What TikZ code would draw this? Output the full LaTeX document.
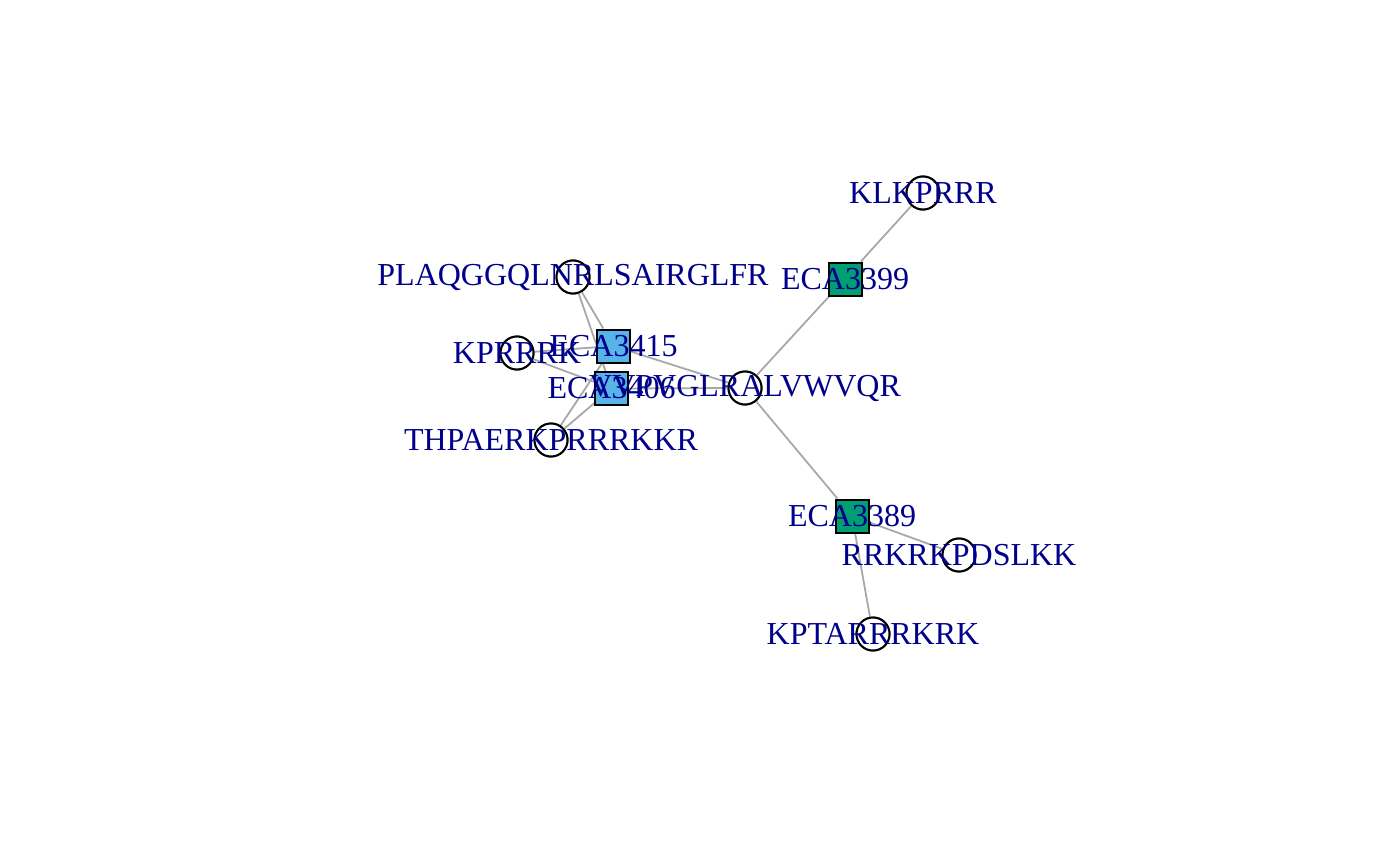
\documentclass[tikz,border=0pt]{standalone}
\usepackage{fontspec}
\setmainfont{Liberation Serif}
\usepackage{tikz}
\definecolor{edgegray}{RGB}{168,168,168}
\definecolor{protblue}{RGB}{86,180,233}
\definecolor{protgreen}{RGB}{0,158,115}
\definecolor{labelblue}{RGB}{0,0,139}
\tikzset{>=latex}
\tikzset{
pep/.style={circle, draw=black, line width=1pt, fill=white, minimum size=16.5pt, inner sep=0pt},
prot/.style={rectangle, draw=black, line width=1pt, minimum size=16.5pt, inner sep=0pt},
lbl/.style={text=labelblue, font=\fontsize{16pt}{18pt}\selectfont, inner sep=0pt},
link/.style={draw=edgegray, line width=0.9pt}
}
\begin{document}
\begin{tikzpicture}[x=0.5pt, y=-0.5pt]
\useasboundingbox (0,0) rectangle (1400,866);
% vertices
\node[pep] (klk) at (923,193) {};
\node[prot, fill=protgreen] (e3399) at (845,279) {};
\node[pep] (plaq) at (573,277) {};
\node[prot, fill=protblue] (e3415) at (613.5,346) {};
\node[pep] (kpr) at (517,353) {};
\node[prot, fill=protblue] (e3406) at (611.5,388.5) {};
\node[pep] (vvp) at (745,388) {};
\node[pep] (thp) at (551,440) {};
\node[prot, fill=protgreen] (e3389) at (852,516) {};
\node[pep] (rrk) at (959,555) {};
\node[pep] (kpt) at (873,634) {};
% edges
\path[link]
(klk) edge (e3399)
(e3399) edge (vvp)
(vvp) edge (e3389)
(e3389) edge (rrk)
(e3389) edge (kpt)
(plaq) edge (e3415)
(plaq) edge (e3406)
(kpr) edge (e3415)
(kpr) edge (e3406)
(thp) edge (e3415)
(thp) edge (e3406)
(e3415) edge (vvp)
(e3406) edge (vvp)
;
% redraw vertices on top of edges
\foreach \v/\c in {e3399/protgreen, e3415/protblue, e3406/protblue, e3389/protgreen}
  \node[prot, fill=\c] at (\v) {};
\foreach \v in {klk, plaq, kpr, vvp, thp, rrk, kpt}
  \node[pep] at (\v) {};
% labels
\node[lbl] (lklk) at (klk) {KLKPRRR};
\node[lbl] (le3399) at (e3399) {ECA3399};
\node[lbl] (lplaq) at (plaq) {PLAQGGQLNRLSAIRGLFR};
\node[lbl] (le3415) at (e3415) {ECA3415};
\node[lbl] (lkpr) at (kpr) {KPRRRK};
\node[lbl] (le3406) at (e3406) {ECA3406};
\node[lbl] (lvvp) at (vvp) {VVPVGLRALVWVQR};
\node[lbl] (lthp) at (thp) {THPAERKPRRRKKR};
\node[lbl] (le3389) at (e3389) {ECA3389};
\node[lbl] (lrrk) at (rrk) {RRKRKPDSLKK};
\node[lbl] (lkpt) at (kpt) {KPTARRRKRK};
\end{tikzpicture}
\end{document}
